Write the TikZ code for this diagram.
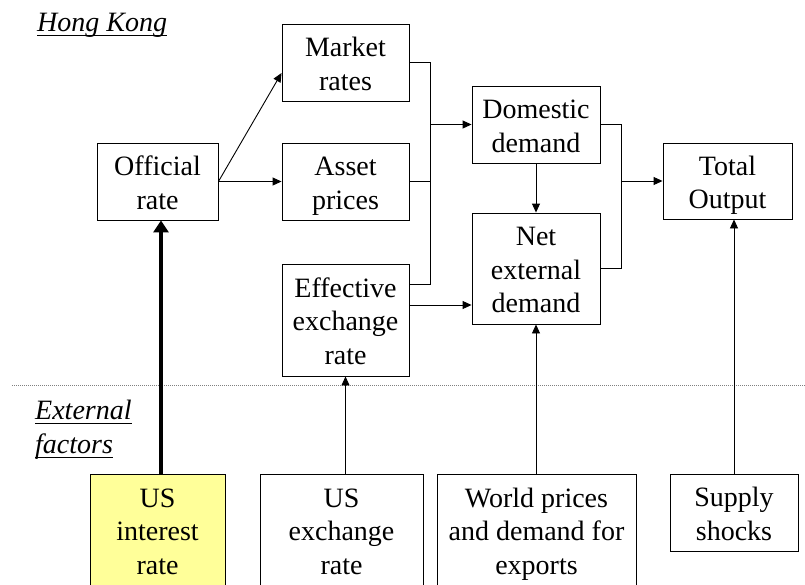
\documentclass[tikz,border=0pt]{standalone}
\usepackage{fontspec}
\setmainfont{Liberation Serif}
\usetikzlibrary{arrows.meta,calc}
\definecolor{usyellow}{HTML}{FFFF99}
\newcommand\boxstrut{\rule[-6pt]{0pt}{33.5pt}}
\newcommand\ulwords[1]{\setbox0\hbox{#1}\rlap{\rule[-4.5pt]{\wd0}{1pt}}\box0}
\begin{document}
\begin{tikzpicture}[x=1pt,y=-1pt,
  box/.style={draw, line width=0.9pt, inner sep=0pt, align=center,
    font=\fontsize{28}{33.5}\selectfont, execute at end node=\boxstrut},
  arr/.style={line width=0.9pt, -{Triangle[length=9pt,width=8pt]}},
  wire/.style={line width=0.9pt},
  title/.style={font=\fontsize{28}{33.5}\selectfont\itshape, inner sep=0pt}]
  \clip (0,0) rectangle (805,584);
  % separator between Hong Kong and external factors
  \draw[gray, line width=0.6pt, dash pattern=on 1pt off 1pt] (12,385) -- (805,385);
  \node[title, anchor=base west] (hk) at (37,31) {\ulwords{Hong Kong}};
  \node[title, align=left, anchor=base west] (ext) at (35,453) {\ulwords{External}\\\ulwords{factors}};
  % Hong Kong boxes
  \node[box, minimum width=121pt, minimum height=77pt] (official) at (157.5,181.5) {\boxstrut Official\\rate};
  \node[box, minimum width=127pt, minimum height=77pt] (market) at (345.5,62.5) {\boxstrut Market\\rates};
  \node[box, minimum width=127pt, minimum height=77pt] (asset) at (345.5,181.5) {\boxstrut Asset\\prices};
  \node[box, minimum width=127pt, minimum height=112pt] (effective) at (345.5,320) {\boxstrut Effective\\exchange\\rate};
  \node[box, minimum width=128pt, minimum height=77pt] (domestic) at (536,124.5) {\boxstrut Domestic\\demand};
  \node[box, minimum width=128pt, minimum height=111pt] (net) at (536,268.5) {\boxstrut Net\\external\\demand};
  \node[box, minimum width=129pt, minimum height=76pt] (total) at (727.5,181) {\boxstrut Total\\Output};
  % external factors
  \node[box, fill=usyellow, minimum width=135pt, minimum height=112pt] (usint) at (157.5,530) {\boxstrut US\\interest\\rate};
  \node[box, minimum width=163pt, minimum height=112pt] (usex) at (341.5,530) {\boxstrut US\\exchange\\rate};
  \node[box, minimum width=199pt, minimum height=112pt] (world) at (536.5,530) {\boxstrut World prices\\and demand for\\exports};
  \node[box, minimum width=128pt, minimum height=77pt] (supply) at (734,512.5) {\boxstrut Supply\\shocks};
  % bus lines
  \coordinate (busL) at (430,0);
  \coordinate (busR) at (621,0);
  \coordinate (effout) at ([yshift=36pt]effective.east);
  \coordinate (effnet) at ([yshift=15pt]effective.east);
  \draw[arr] (official.east) -- ([yshift=-10.5pt]market.west);
  \draw[arr] (official.east) -- (asset.west);
  \draw[wire] (market.east) -| (busL |- effout) -- (effout);
  \draw[wire] (asset.east) -- (asset.east -| busL);
  \draw[arr] (domestic.west -| busL) -- (domestic.west);
  \draw[arr] (effnet) -- (effnet -| net.west);
  \draw[arr] (domestic) -- (net);
  \draw[wire] (domestic.east) -| (busR |- net.east) -- (net.east);
  \draw[arr] (total.west -| busR) -- (total.west);
  \draw[arr] (usex.north -| effective) -- (effective.south);
  \draw[arr] (world.north -| net) -- (net.south);
  \draw[arr] (supply) -- (total.south -| supply);
  \draw[line width=4pt, -{Triangle[length=12pt,width=15pt]}] ([xshift=3.5pt]usint.north) -- ([xshift=3.5pt]official.south);
\end{tikzpicture}
\end{document}
